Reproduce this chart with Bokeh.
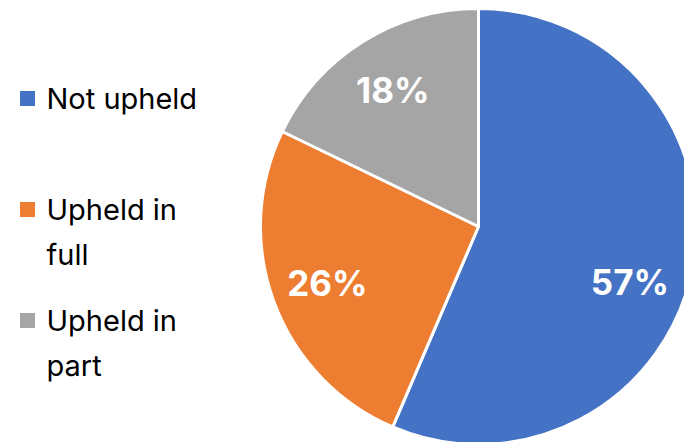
import math
from bokeh.plotting import figure
from bokeh.models import Range1d, ColumnDataSource
from bokeh.core.properties import value
from bokeh.embed import file_html
from bokeh.resources import INLINE

# ---- data ----
categories = ["Not upheld", "Upheld in full", "Upheld in part"]
percent = [57, 26, 18]
legend_lines = [["Not upheld"], ["Upheld in", "full"], ["Upheld in", "part"]]
colors = ["#4472C4", "#ED7D31", "#A5A5A5"]

# label placement nudges (degrees, clockwise) - layout only
label_nudge_deg = [8.5, 0, 0]

W, H = 684, 442
FONT = "Inter"

p = figure(width=W, height=H, output_backend="svg", toolbar_location=None,
           x_range=Range1d(0, W), y_range=Range1d(0, H), min_border=0)
p.axis.visible = False
p.grid.visible = False
p.outline_line_color = None
p.background_fill_color = "white"
p.border_fill_color = "white"

cx, cy, r = 478, 216, 218
total = float(sum(percent))
starts, ends, lx, ly, txt = [], [], [], [], []
a = math.pi / 2
for v, nd in zip(percent, label_nudge_deg):
    span = v / total * 2 * math.pi
    starts.append(a - span)
    ends.append(a)
    mid = a - span / 2 - math.radians(nd)
    lx.append(cx + 0.74 * r * math.cos(mid))
    ly.append(cy + 0.74 * r * math.sin(mid))
    txt.append(f"{v}%")
    a -= span

src = ColumnDataSource(dict(start=starts, end=ends, color=colors, lx=lx, ly=ly, txt=txt))
p.wedge(x=cx, y=cy, radius=r, start_angle="start", end_angle="end", fill_color="color",
        line_color="white", line_width=3, source=src)
p.text(x="lx", y="ly", text="txt", source=src, text_color="white", text_font=value(FONT),
       text_font_style="bold", text_font_size="35px", text_align="center",
       text_baseline="middle")

# ---- legend ----
item_y = [H - 98, H - 209, H - 320]
line_gap = 45
for i, lines in enumerate(legend_lines):
    p.rect(x=27, y=item_y[i], width=15, height=15, fill_color=colors[i], line_color=None)
    for j, t in enumerate(lines):
        p.text(x=[46], y=[item_y[i] - j * line_gap], text=[t], text_color="black",
               text_font=value(FONT), text_font_size="29px", text_align="left",
               text_baseline="middle")

open("out.html", "w").write(file_html(p, INLINE))
